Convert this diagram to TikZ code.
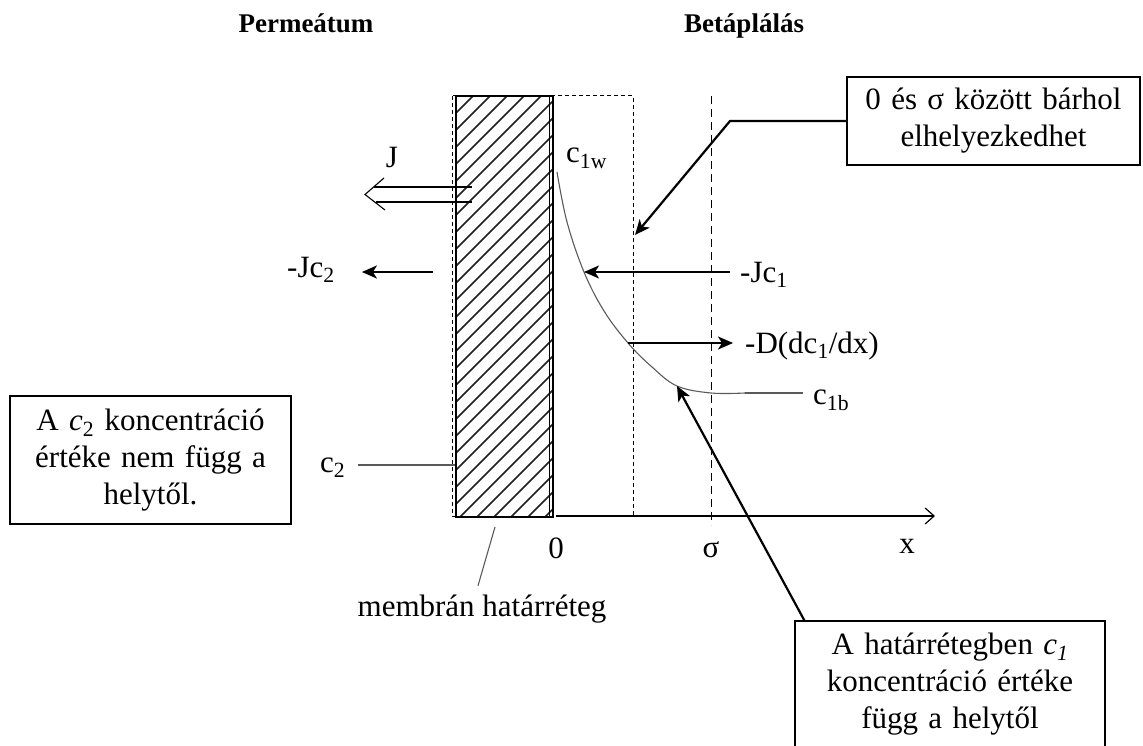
\documentclass[tikz,border=0pt]{standalone}
\usepackage{fontspec}
\setmainfont{Liberation Serif}
\usepackage{tikz}
\usetikzlibrary{arrows.meta}
\definecolor{MemHatch}{HTML}{1E1E1E}
\definecolor{ProfGray}{HTML}{5A5A5A}

\begin{document}
\begin{tikzpicture}[x=1pt,y=-1pt,
  lbl/.style={font=\fontsize{31}{37}\selectfont,inner sep=0pt},
  head/.style={font=\fontsize{27}{30}\selectfont\bfseries,inner sep=0pt},
  notebox/.style={draw,line width=1.4pt,align=center,inner sep=0pt,font=\fontsize{31}{37}\selectfont},
  flux/.style={line width=2.2pt,-{Stealth[length=15pt,width=13pt,inset=4pt]}},
  lead/.style={ProfGray,line width=1.1pt},
  shortdash/.style={line width=1pt,dash pattern=on 4pt off 3pt}]
\path[use as bounding box] (0,0) rectangle (1143,746);
% headers
\node[head,anchor=base] (perm) at (306,33) {Permeátum};
\node[head,anchor=base] (feed) at (744,33) {Betáplálás};
% membrane
\begin{scope}
\clip (456,96) rectangle (553,517);
\foreach \k in {0,...,32}
  \draw[MemHatch,line width=1.5pt] (456,96+\k*17) -- ++(130,-130);
\end{scope}
\draw[line width=1.2pt] (456,96) rectangle (553,517);
\draw[line width=1pt] (549,96) -- (549,517);
\draw[shortdash] (452,96) rectangle (633,516);
\draw[line width=1pt,dash pattern=on 8pt off 5pt] (711,96) -- (711,525);
% axis
\draw[line width=1.2pt,-{Straight Barb[length=9pt,width=16pt]}] (556,516) -- (935,516);
\node[lbl] (zero) at (556,548) {0};
\node[lbl] (sig) at (711,550) {σ};
\node[lbl] (xlab) at (907,546) {x};
% concentration profile
\coordinate (cw) at (557,172);
\coordinate (cj) at (584,272);
\coordinate (cd) at (628,343);
\coordinate (cm) at (677,386);
\coordinate (cs) at (711,393);
\coordinate (cb) at (803,393);
\draw[lead] plot[smooth,tension=0.6] coordinates {(cw) (567,222) (cj) (604,311) (cd) (652,367) (cm) (cs) (745,393)};
\draw[lead] (745,393) -- (cb);
\node[lbl,anchor=base west] (c1w) at (566,163) {c\textsubscript{1w}};
\node[lbl,anchor=base west] (c1b) at (813,404) {c\textsubscript{1b}};
% fluxes
\node[lbl,anchor=base west] (jc1) at (740,282) {-Jc\textsubscript{1}};
\draw[flux] ([xshift=-10pt]cj -| jc1.west) -- (cj);
\node[lbl,anchor=base west] (ddx) at (745,353) {-D(dc\textsubscript{1}/dx)};
\draw[flux] (cd) -- ([xshift=-12pt]cd -| ddx.west);
\node[lbl,anchor=base west] (jc2) at (287,277) {-Jc\textsubscript{2}};
\coordinate (jc2tail) at (433,272);
\draw[flux] (jc2tail) -- ([xshift=27pt]jc2tail -| jc2.east);
\node[lbl] (jlab) at (392,158) {J};
\draw[line width=1.1pt] (472,187) -- (374,187) (472,202) -- (376,202);
\draw[line width=1.1pt] (384,178) -- (365,194.5) -- (385,210);
% c2
\node[lbl,anchor=base west] (c2lab) at (320,472) {c\textsubscript{2}};
\coordinate (c2end) at (455,465);
\draw[lead] ([xshift=12pt]c2end -| c2lab.east) -- (c2end);
% membrane label
\node[lbl] (memlab) at (482,609) {membrán határréteg};
\coordinate (memtop) at (495,527);
\draw[lead] ([shift={(-4,-9)}]memlab.north) -- (memtop);
% note boxes
\node[notebox,minimum width=293pt,minimum height=88pt,text width=290pt] (sigbox) at (993.5,121) {0 és σ között bárhol\\elhelyezkedhet};
\coordinate (bend) at (730,121);
\coordinate (sigtip) at (635,235);
\draw[flux] (sigbox.west) -- (bend) -- (sigtip);
\node[notebox,minimum width=281pt,minimum height=128pt,text width=275pt] (c2box) at (150.5,460) {A \textit{c}\textsubscript{2} koncentráció\\értéke nem függ a\\helytől.};
\node[notebox,minimum width=310pt,minimum height=126pt,text width=305pt] (c1box) at (950,684) {A határrétegben \textit{c\textsubscript{1}}\\koncentráció értéke\\függ a helytől};
\draw[flux] ([xshift=10pt]c1box.north west) -- (cm);
\end{tikzpicture}
\end{document}
